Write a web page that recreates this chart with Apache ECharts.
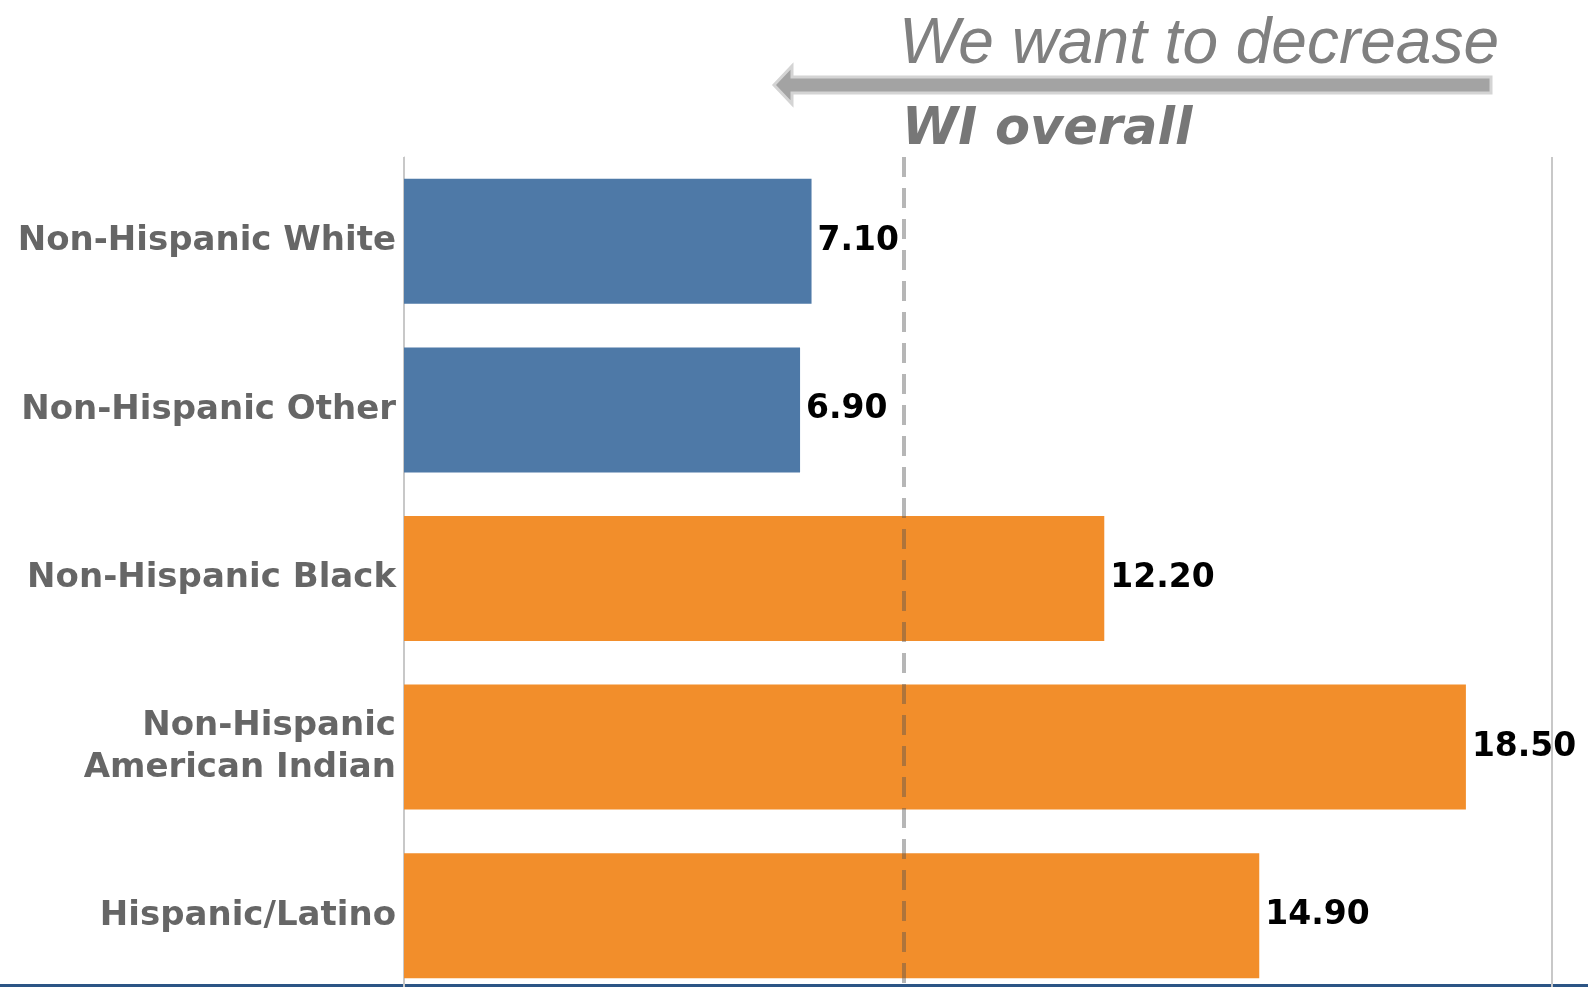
<!DOCTYPE html>
<html>
<head>
<meta charset="utf-8">
<script src="https://cdn.jsdelivr.net/npm/echarts@6/dist/echarts.min.js"></script>
<style>
  html, body { margin: 0; padding: 0; background: #fff; }
  #chart { width: 1588px; height: 987px; }
</style>
</head>
<body>
<div id="chart"></div>
<script>
  // data
  const categories = ['Non-Hispanic White', 'Non-Hispanic Other', 'Non-Hispanic Black', 'Non-Hispanic\nAmerican Indian', 'Hispanic/Latino'];
  const values = [7.10, 6.90, 12.20, 18.50, 14.90];
  const barColors = ['#4e79a7', '#4e79a7', '#f28e2b', '#f28e2b', '#f28e2b'];
  const wiOverall = 8.7;

  const chart = echarts.init(document.getElementById('chart'));

  chart.setOption({
    animation: false,
    // the plot runs a little past the bottom edge, as in the original
    grid: { left: 404, right: 36, top: 157, height: 843, outerBoundsMode: 'none' },
    xAxis: {
      type: 'value',
      min: 0,
      max: 20,
      interval: 20,
      axisLabel: { show: false },
      axisLine: { show: false },
      axisTick: { show: false },
      splitLine: { show: true, lineStyle: { color: '#c8c8c8', width: 2 } }
    },
    yAxis: {
      type: 'category',
      inverse: true,
      data: categories,
      axisLine: { show: true, lineStyle: { color: '#c8c8c8', width: 1 } },
      axisTick: { show: false },
      axisLabel: {
        margin: 8,
        color: '#666666',
        fontFamily: 'DejaVu Sans',
        fontWeight: 'bold',
        fontSize: 34,
        lineHeight: 42,
        padding: [6, 0, 0, 0],
        align: 'right'
      }
    },
    series: [{
      type: 'bar',
      barWidth: 125,
      data: values.map((v, i) => ({ value: v, itemStyle: { color: barColors[i] } })),
      label: {
        show: true,
        position: 'right',
        distance: 6,
        padding: [4, 0, 0, 0],
        color: '#000',
        fontFamily: 'DejaVu Sans',
        fontWeight: 'bold',
        fontSize: 33,
        formatter: p => p.value.toFixed(2)
      },
      markLine: {
        silent: true,
        symbol: 'none',
        label: { show: false },
        lineStyle: { type: [20, 11], color: 'rgba(80,80,80,0.42)', width: 4 },
        data: [{ xAxis: wiOverall }]
      }
    }],
    graphic: [
      {
        type: 'polygon',
        shape: { points: [[774, 85], [792, 66], [792, 77], [1491, 77], [1491, 93], [792, 93], [792, 104]] },
        style: { fill: '#a3a3a3', stroke: '#d4d4d4', lineWidth: 3 }
      },
      {
        type: 'text',
        style: {
          text: 'We want to decrease', x: 899, y: 45,
          font: 'italic 64px "Liberation Sans"', fill: '#808080',
          textVerticalAlign: 'middle'
        }
      },
      {
        type: 'text',
        style: {
          text: 'WI overall', x: 902, y: 131,
          font: 'italic bold 51px "DejaVu Sans"', fill: '#777777',
          textVerticalAlign: 'middle'
        }
      },
      {
        type: 'rect',
        shape: { x: 0, y: 984, width: 1588, height: 3 },
        style: { fill: '#2c5585' }
      }
    ]
  });
</script>
</body>
</html>
